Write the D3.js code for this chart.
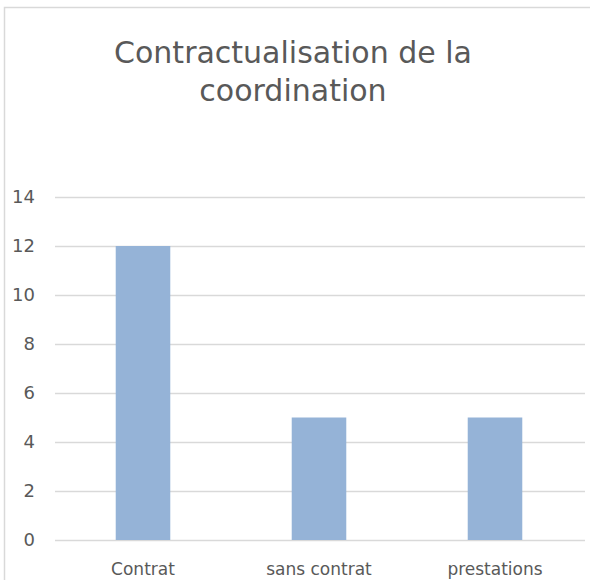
<!DOCTYPE html>
<html lang="fr">
<head>
  <meta charset="utf-8">
  <title>Contractualisation de la coordination</title>
  <script src="https://d3js.org/d3.v7.min.js"></script>
  <style>
    body { margin: 0; background: #fff; }
    text { font-family: "DejaVu Sans", "Noto Sans", sans-serif; fill: #595959; }
  </style>
</head>
<body>
<div class="chart"></div>

<script type="text/javascript">

var categories = ["Contrat", "sans contrat", "prestations"];
var values = [12, 5, 5];
var yTicks = [0, 2, 4, 6, 8, 10, 12, 14];
var titleLines = ["Contractualisation de la", "coordination"];

var width = 590,
    height = 580;

var svg = d3.select(".chart").append("svg")
    .attr("width", width)
    .attr("height", height);

// frame of the chart area (right and bottom edges fall outside the picture)
svg.append("rect")
    .attr("x", 4.5)
    .attr("y", 7.5)
    .attr("width", 600)
    .attr("height", 600)
    .attr("fill", "#fff")
    .attr("stroke", "#d9d9d9")
    .attr("stroke-width", 1.5);

var x = d3.scaleBand()
    .domain(categories)
    .range([55, 583])
    .paddingInner(0.69)
    .paddingOuter(0.345);

var y = d3.scaleLinear()
    .domain([0, 14])
    .range([540, 197]);

var g = svg.append("g");

// gridlines
g.selectAll("line.grid")
    .data(yTicks)
    .enter()
    .append("line")
    .attr("class", "grid")
    .attr("x1", 55)
    .attr("x2", 585)
    .attr("y1", function(d){ return Math.round(y(d)) + 0.5; })
    .attr("y2", function(d){ return Math.round(y(d)) + 0.5; })
    .attr("stroke", "#d9d9d9")
    .attr("stroke-width", 1.5);

// bars
g.selectAll("rect.bar")
    .data(values)
    .enter()
    .append("rect")
    .attr("class", "bar")
    .attr("x", function(d, i){ return x(categories[i]); })
    .attr("y", function(d){ return y(d); })
    .attr("width", x.bandwidth())
    .attr("height", function(d){ return y(0) - y(d); })
    .attr("fill", "#95b3d7");

// y tick labels
g.selectAll("text.ytick")
    .data(yTicks)
    .enter()
    .append("text")
    .attr("class", "ytick")
    .attr("x", 35)
    .attr("y", function(d){ return y(d); })
    .attr("dy", "0.35em")
    .attr("text-anchor", "end")
    .style("font-size", "18px")
    .text(function(d){ return d; });

// category labels
g.selectAll("text.xtick")
    .data(categories)
    .enter()
    .append("text")
    .attr("class", "xtick")
    .attr("x", function(d){ return x(d) + x.bandwidth() / 2; })
    .attr("y", 575)
    .attr("text-anchor", "middle")
    .style("font-size", "17px")
    .text(function(d){ return d; });

// title
svg.selectAll("text.title")
    .data(titleLines)
    .enter()
    .append("text")
    .attr("class", "title")
    .attr("x", 293)
    .attr("y", function(d, i){ return 63 + i * 38; })
    .attr("text-anchor", "middle")
    .style("font-size", "30px")
    .text(function(d){ return d; });

</script>
</body>
</html>
